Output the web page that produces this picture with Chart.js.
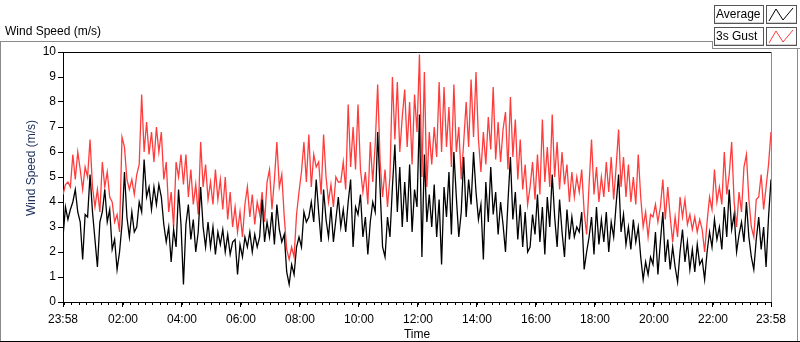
<!DOCTYPE html>
<html>
<head>
<meta charset="utf-8">
<script src="https://cdn.jsdelivr.net/npm/chart.js@4.4.0/dist/chart.umd.min.js"></script>
<style>
html,body{margin:0;padding:0;background:#fff;}
#wrap{position:relative;width:800px;height:342px;}
canvas{display:block;}
</style>
</head>
<body>
<div id="wrap"><canvas id="c" width="800" height="342"></canvas></div>
<script>
// ---- data (one reading every 5 minutes, starting 23:58) ----
const STEP_MIN = 5;
const average = [
2.6,3.8,3.3,3.7,4.0,4.5,3.6,3.2,1.7,3.5,
3.4,5.1,3.6,2.5,1.4,3.2,3.6,4.5,3.2,3.7,
2.1,2.5,1.3,2.0,3.1,5.2,3.4,2.6,3.6,2.8,
3.0,4.0,3.6,5.7,4.2,4.6,3.7,4.6,3.9,4.7,
4.2,3.1,2.4,3.0,1.6,2.9,2.2,4.5,3.1,0.7,
3.1,3.9,2.5,3.3,2.0,2.8,4.6,3.0,2.2,3.2,
2.2,3.0,1.9,2.8,2.3,2.9,2.0,2.7,1.9,2.4,
2.5,1.1,2.3,1.8,2.6,2.2,2.8,2.0,2.7,2.2,
2.6,4.1,2.4,3.2,2.6,3.6,2.3,3.9,2.9,2.4,
2.7,1.2,0.7,1.5,1.1,2.2,2.6,2.2,3.6,3.2,
3.4,4.0,3.2,4.9,3.6,2.4,4.5,3.3,2.6,3.8,
2.4,3.3,4.2,3.0,3.7,2.8,4.0,4.9,2.2,3.8,
3.5,4.3,2.6,3.4,1.9,3.2,4.0,3.6,6.8,4.5,
2.2,1.8,3.4,2.6,4.6,6.3,3.6,5.4,3.0,4.8,
3.2,5.5,2.8,4.5,3.8,7.5,1.8,5.9,3.2,4.3,
3.0,4.7,2.6,4.1,1.5,4.6,3.4,5.2,2.7,6.0,
4.2,2.6,3.6,5.8,3.4,4.9,3.9,6.0,4.4,3.3,
3.9,1.7,4.8,3.2,5.4,3.5,4.4,2.7,4.0,3.1,
2.0,4.0,5.8,3.3,4.4,2.5,3.9,2.2,3.6,2.0,
2.2,3.5,2.7,4.3,2.4,3.8,1.9,4.2,3.0,5.1,
3.4,2.2,4.1,2.8,1.8,3.7,2.5,3.4,2.6,3.0,
2.8,3.6,1.3,2.0,2.6,3.4,1.9,3.8,2.3,3.3,
2.4,3.6,2.0,3.2,2.6,3.9,5.1,2.8,3.5,2.3,
3.0,2.1,3.3,2.4,3.0,1.8,0.9,1.6,1.1,1.8,
1.5,2.8,1.1,2.4,3.6,1.6,2.5,1.3,2.2,1.4,
0.8,2.0,2.9,1.6,2.4,1.3,2.1,1.2,2.3,1.5,
1.7,0.9,2.0,2.8,2.2,3.3,2.5,3.0,2.1,3.8,
2.6,4.5,2.9,3.5,2.0,2.7,3.2,2.4,4.0,2.6,
1.8,1.3,2.5,3.4,2.1,3.0,1.4,3.4,4.9
];
const gust = [
4.3,4.7,4.8,4.6,5.9,4.9,6.0,5.3,4.5,5.4,
5.0,6.5,4.6,3.8,4.5,3.6,5.6,4.6,5.2,4.2,
4.0,3.2,3.5,2.8,6.6,6.2,4.9,4.5,4.9,4.3,
5.1,5.5,8.3,6.0,7.2,5.9,6.8,5.6,7.0,6.0,
6.8,4.9,5.6,3.6,4.4,3.0,5.6,5.0,5.9,4.7,
5.9,4.2,5.3,3.9,4.7,3.5,6.4,4.6,5.5,4.1,
4.8,3.9,5.3,4.1,4.9,3.7,5.0,3.3,4.4,3.0,
3.8,2.8,3.6,2.6,3.9,4.6,3.4,4.3,3.1,4.0,
3.5,4.4,3.2,4.8,5.3,3.7,4.9,6.4,4.6,5.1,
3.4,2.1,1.7,2.2,1.8,3.5,4.4,5.2,6.4,4.8,
6.7,4.6,5.9,5.4,5.6,4.3,6.7,5.0,4.0,4.7,
3.8,5.0,4.8,4.8,5.6,4.5,7.9,5.4,7.0,5.3,
7.9,5.3,4.4,5.2,3.9,6.4,4.8,6.3,8.7,5.6,
4.2,5.3,3.8,5.0,9.0,6.5,8.8,6.0,7.4,8.5,
6.2,8.0,5.5,8.3,6.8,9.9,5.0,9.2,4.6,6.8,
5.5,7.0,5.8,8.8,6.0,8.6,6.2,7.8,5.4,8.7,
6.0,7.0,4.9,6.4,8.0,6.2,8.9,6.6,9.2,6.5,
5.2,6.8,5.5,7.4,6.1,8.6,5.7,7.2,5.6,6.9,
7.6,5.3,8.2,5.8,7.3,4.9,6.5,4.5,5.5,3.9,
4.6,5.6,4.1,5.9,4.3,7.3,4.8,6.2,4.6,7.5,
5.0,6.4,4.5,6.0,4.7,5.5,4.0,5.2,4.2,5.0,
4.4,5.3,3.6,2.7,4.7,6.5,4.3,5.4,4.0,5.0,
4.2,5.6,4.4,5.8,4.1,5.4,6.9,4.6,5.8,4.2,
5.5,4.0,5.0,3.9,5.9,4.2,3.0,3.6,2.6,3.5,
3.4,3.9,3.2,3.8,4.9,3.3,4.6,3.4,2.4,3.4,
2.6,4.2,3.4,4.1,3.1,3.5,2.9,3.4,2.8,3.3,
2.9,2.0,3.2,4.2,3.7,5.3,4.0,4.6,3.9,6.0,
4.3,5.1,6.4,4.0,3.0,4.4,3.6,5.4,5.9,4.1,
3.0,2.6,4.1,4.2,5.1,3.7,4.6,5.5,6.8
];
const seriesNames = ['Average', '3s Gust'];
const seriesColors = ['#000000', '#ff3c3c'];
const xTickMinutes = [0,122,242,362,482,602,722,842,962,1082,1202,1322,1440];
const xTickLabels = ['23:58','02:00','04:00','06:00','08:00','10:00','12:00','14:00','16:00','18:00','20:00','22:00','23:58'];
const yTickValues = [0,1,2,3,4,5,6,7,8,9,10];
const X_MAX = 1440;
const MINOR_START = 2, MINOR_STEP = 15;

const FONT = 'Liberation Sans';
Chart.defaults.font.family = FONT;
Chart.defaults.font.size = 12;
Chart.defaults.color = '#000';

function toPoints(arr){ return arr.map((v,i)=>({x:i*STEP_MIN, y:v})); }

function ln(ctx,x1,y1,x2,y2){ ctx.beginPath(); ctx.moveTo(x1,y1); ctx.lineTo(x2,y2); ctx.stroke(); }

const decor = {
  id:'decor',
  beforeDraw(chart){
    const ctx = chart.ctx;
    ctx.save(); ctx.fillStyle = '#fff'; ctx.fillRect(0,0,chart.width,chart.height); ctx.restore();
  },
  afterDraw(chart){
    const ctx = chart.ctx, a = chart.chartArea, xs = chart.scales.x;
    ctx.save();
    ctx.lineWidth = 1;
    // outer frame
    ctx.strokeStyle = '#8a8a8a';
    ln(ctx, 0, 41.5, 712, 41.5);
    ln(ctx, 712.5, 41, 712.5, 48);
    ln(ctx, 712, 48.5, 800, 48.5);
    ln(ctx, 0.5, 41, 0.5, 342);
    ln(ctx, 797.5, 48, 797.5, 342);
    ctx.strokeStyle = '#000';
    ln(ctx, 0, 341.5, 800, 341.5);
    // plot area top/right border
    ctx.strokeStyle = '#000';
    ln(ctx, a.left, Math.round(a.top)+0.5, a.right+1, Math.round(a.top)+0.5);
    ctx.strokeStyle = '#8a8a8a';
    ln(ctx, Math.round(a.right)+0.5, a.top, Math.round(a.right)+0.5, a.bottom);
    // minor x ticks
    ctx.strokeStyle = '#000';
    for (let m = MINOR_START; m < X_MAX; m += MINOR_STEP){
      const px = Math.round(xs.getPixelForValue(m)) + 0.5;
      ln(ctx, px, Math.round(a.bottom), px, Math.round(a.bottom)+3);
    }
    // top title
    ctx.fillStyle = '#000';
    ctx.font = '12px "'+FONT+'"';
    ctx.textBaseline = 'middle'; ctx.textAlign = 'left';
    ctx.fillText('Wind Speed (m/s)', 5, 32);
    // y title
    ctx.save();
    ctx.translate(32, 168);
    ctx.rotate(-Math.PI/2);
    ctx.textAlign = 'center'; ctx.textBaseline = 'middle';
    ctx.fillStyle = '#1c2f5e';
    ctx.fillText('Wind Speed (m/s)', 0, 0);
    ctx.restore();
    // legend
    const rows = [5, 27];
    chart.data.datasets.forEach((ds, i) => {
      const y0 = rows[i];
      ctx.fillStyle = '#fff';
      ctx.fillRect(714, y0, 50, 19);
      ctx.fillRect(766, y0, 31, 19);
      ctx.lineWidth = 1;
      ctx.strokeStyle = '#555';
      ctx.strokeRect(714.5, y0+0.5, 49, 18);
      ctx.strokeRect(766.5, y0+0.5, 30, 18);
      ctx.strokeStyle = '#d0d0d0';
      ln(ctx, 715, y0+17.5, 763, y0+17.5);
      ln(ctx, 767, y0+17.5, 796, y0+17.5);
      ctx.fillStyle = '#000';
      ctx.textAlign = 'left'; ctx.textBaseline = 'middle';
      ctx.fillText(ds.label, 716, y0+10);
      ctx.strokeStyle = ds.borderColor;
      ctx.beginPath();
      ctx.moveTo(769, y0+16); ctx.lineTo(776, y0+4); ctx.lineTo(783, y0+15); ctx.lineTo(793, y0+3);
      ctx.stroke();
    });
    ctx.restore();
  }
};

new Chart(document.getElementById('c'), {
  type: 'line',
  data: {
    datasets: [
      {label: seriesNames[0], data: toPoints(average), borderColor: seriesColors[0], borderWidth: 1.3, pointRadius: 0, tension: 0},
      {label: seriesNames[1], data: toPoints(gust), borderColor: seriesColors[1], borderWidth: 1.3, pointRadius: 0, tension: 0}
    ]
  },
  options: {
    responsive: false,
    animation: false,
    devicePixelRatio: 1,
    parsing: false,
    layout: {padding: {left: 0, top: 52, right: 29, bottom: 0}},
    plugins: {legend: {display: false}, tooltip: {enabled: false}, title: {display: false}},
    scales: {
      x: {
        type: 'linear', min: 0, max: X_MAX,
        afterBuildTicks: s => { s.ticks = xTickMinutes.map(v => ({value: v})); },
        afterFit: s => { s.height = 40; },
        ticks: {autoSkip: false, maxRotation: 0, padding: 5, color: '#000',
                callback: (v) => { const k = xTickMinutes.indexOf(v); return k >= 0 ? xTickLabels[k] : ''; }},
        grid: {drawOnChartArea: false, tickLength: 5, color: '#000', tickColor: '#000'},
        border: {color: '#000', width: 1},
        title: {display: true, text: 'Time', color: '#000', padding: {top: 0, bottom: 0}}
      },
      y: {
        min: 0, max: 10,
        afterBuildTicks: s => { s.ticks = yTickValues.map(v => ({value: v})); },
        afterFit: s => { s.width = 63; },
        ticks: {padding: 2, color: '#000'},
        grid: {drawOnChartArea: false, tickLength: 5, color: '#000', tickColor: '#000'},
        border: {color: '#000', width: 1}
      }
    }
  },
  plugins: [decor]
});
</script>
</body>
</html>
